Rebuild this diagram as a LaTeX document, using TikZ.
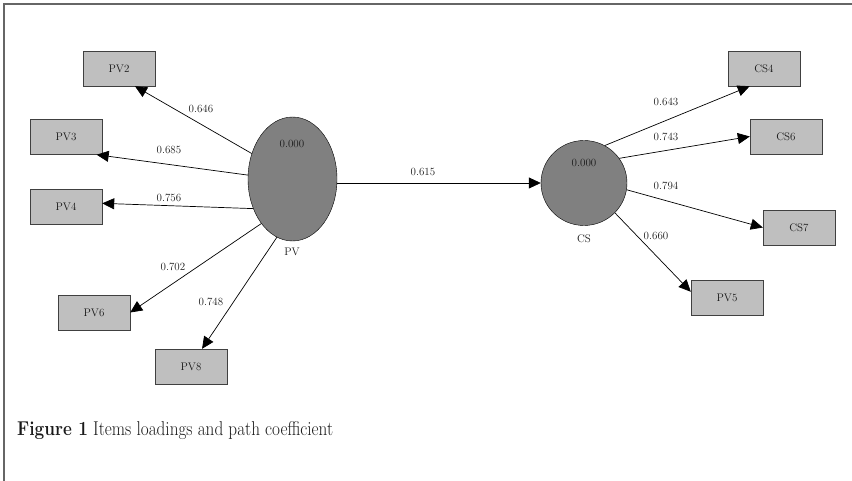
\documentclass[tikz,border=0pt]{standalone}
\usepackage{amsmath}
\usepackage{xcolor}
\usepackage{tikz}
\usetikzlibrary{arrows.meta,shapes.geometric}

\tikzset{
    item/.style={draw=black!75, fill=lightgray, minimum width=72pt, minimum height=35pt,
        inner sep=0pt, font=\fontsize{11}{12}\selectfont, text=black!90},
    latent/.style={draw=black, fill=gray, ellipse, inner sep=0pt},
    val/.style={font=\fontsize{11}{12}\selectfont, text=black!90, inner sep=1pt},
    load/.style={-{Triangle[length=12pt,width=11pt]}, line width=0.7pt},
}

\begin{document}
\begin{tikzpicture}[x=1pt,y=-1pt]
    \useasboundingbox (0,0) rectangle (852,481);
    \draw[black!60,line width=1.2pt] (4,481) -- (4,4) -- (852,4);

    % Left construct: PV with its items
    \begin{scope}
        \node[latent, minimum width=89pt, minimum height=124pt] (PV) at (292.5,179) {};
        \node[val] (PVr2) at (292,144) {0.000};
        \node[val] (PVname) at (292,252) {PV};

        \node[item] (PV2) at (119,68.5) {PV2};
        \node[item] (PV3) at (66,137) {PV3};
        \node[item] (PV4) at (66,206.5) {PV4};
        \node[item] (PV6) at (94,312.5) {PV6};
        \node[item] (PV8) at (191,366.5) {PV8};

        \draw[load] (PV.148) -- (PV2.312);
        \draw[load] (PV.175) -- (PV3.330);
        \draw[load] (PV.217) -- (PV4.5);
        \draw[load] (PV.235) -- (PV6.east);
        \draw[load] (PV.255) -- (PV8.58);

        \node[val] (l646) at (201,109) {0.646};
        \node[val] (l685) at (169,150) {0.685};
        \node[val] (l756) at (169,198) {0.756};
        \node[val] (l702) at (173,267) {0.702};
        \node[val] (l748) at (211,302) {0.748};
    \end{scope}

    % Right construct: CS with its items
    \begin{scope}
        \node[latent, minimum width=86pt, minimum height=85pt] (CS) at (584,183) {};
        \node[val] (CSr2) at (584,163) {0.000};
        \node[val] (CSname) at (584,239) {CS};

        \node[item] (CS4) at (764,68.5) {CS4};
        \node[item] (CS6) at (786,136.5) {CS6};
        \node[item] (CS7) at (799,227.5) {CS7};
        \node[item] (PV5) at (727,297.5) {PV5};

        \draw[load] (CS.61) -- (CS4.231);
        \draw[load] (CS.35) -- (CS6.west);
        \draw[load] (CS.351) -- (CS7.west);
        \draw[load] (CS.316) -- (PV5.171);

        \node[val] (l643) at (666,102) {0.643};
        \node[val] (l743) at (666,137) {0.743};
        \node[val] (l794) at (666,186) {0.794};
        \node[val] (l660) at (656,236) {0.660};
    \end{scope}

    % Path coefficient
    \draw[load] (PV.east |- CS.west) -- (CS.west);
    \node[val] (l615) at (423,172) {0.615};

    % Caption
    \node[anchor=west, inner sep=0pt, text=black!90, font=\fontsize{20}{24}\selectfont] (caption) at (17,431)
        {\scalebox{0.86}[1]{\textbf{Figure 1} Items loadings and path coefficient}};
\end{tikzpicture}
\end{document}
